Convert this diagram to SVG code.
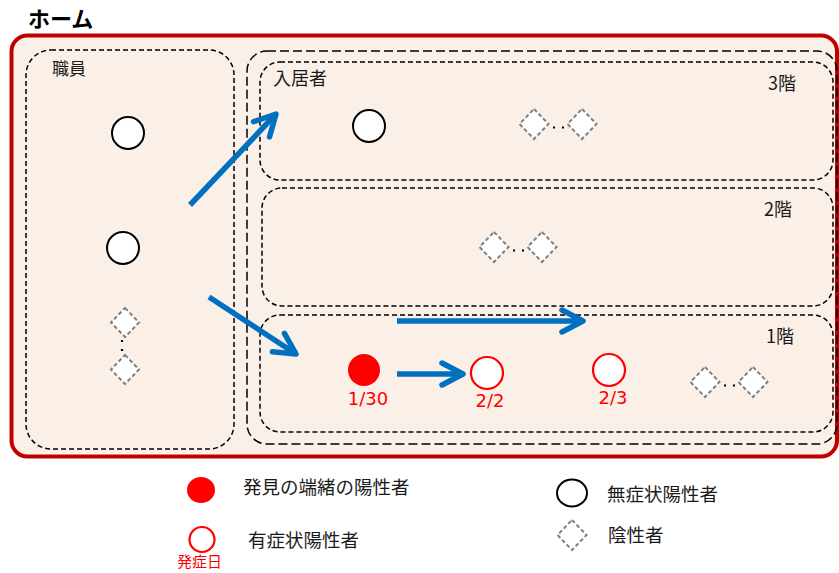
<svg xmlns="http://www.w3.org/2000/svg" width="839" height="573" viewBox="0 0 839 573">
<defs>
<style>
.box{fill:none;stroke:#000;stroke-width:1.5;stroke-dasharray:5 3}
.lbox{fill:none;stroke:#000;stroke-width:1.5;stroke-dasharray:9 4}
.neg{fill:#fff;stroke:#808080;stroke-width:2;stroke-dasharray:4 2.5}
.asym{fill:#fff;stroke:#000;stroke-width:2}
.sym{fill:#fff;stroke:#ff0000;stroke-width:2.2}
.dots{stroke:#000;stroke-width:2.2;stroke-dasharray:2 7}
.arrow{stroke:#0070C0;stroke-width:5.5;fill:none;marker-end:url(#chev)}
.jp{font-family:"Noto Sans CJK JP","Noto Sans",sans-serif;fill:#1a1a1a}
.num{font-family:"DejaVu Sans",sans-serif;fill:#ff0000;font-size:18px;text-anchor:middle}
</style>
<marker id="chev" markerUnits="userSpaceOnUse" viewBox="0 0 30 30" refX="25" refY="15" markerWidth="30" markerHeight="30" orient="auto">
<path d="M4 4 L25 15 L4 26" fill="none" stroke="#0070C0" stroke-width="5.5" stroke-linecap="round" stroke-linejoin="round"/>
</marker>
</defs>
<text x="28" y="27" class="jp" style="font-size:22px;font-weight:bold;fill:#000">ホーム</text>
<g id="home">
<rect x="11.5" y="35.5" width="825.5" height="421" rx="16" fill="#FBF0E8" stroke="#C00000" stroke-width="4"/>
</g>
<g id="staff">
<rect x="26" y="50" width="208" height="399" rx="25" class="box"/>
<text x="52" y="75" class="jp" style="font-size:17px">職員</text>
<circle cx="128" cy="133" r="16" class="asym"/>
<circle cx="123" cy="248" r="16" class="asym"/>
<path d="M125 308 L139 322.5 L125 337 L111 322.5 Z" class="neg"/>
<line x1="122" y1="340" x2="122" y2="353" class="dots"/>
<path d="M125 355 L139 369.5 L125 384 L111 369.5 Z" class="neg"/>
</g>
<g id="residents">
<rect x="247" y="51" width="590" height="393" rx="20" class="lbox"/>
<text x="273" y="85" class="jp" style="font-size:18px">入居者</text>
</g>
<g id="floor3">
<rect x="260" y="62" width="573" height="118" rx="20" class="box"/>
<text x="768" y="90" class="jp" style="font-size:18px">3階</text>
<circle cx="369" cy="126" r="16" class="asym"/>
<path d="M534 109 L548.5 124 L534 139 L519.5 124 Z" class="neg"/>
<line x1="553" y1="127.5" x2="564" y2="127.5" class="dots"/>
<path d="M582 109 L596.5 124 L582 139 L567.5 124 Z" class="neg"/>
</g>
<g id="floor2">
<rect x="262" y="188" width="571" height="118" rx="20" class="box"/>
<text x="764" y="216" class="jp" style="font-size:18px">2階</text>
<path d="M494 232 L508.5 247 L494 262 L479.5 247 Z" class="neg"/>
<line x1="513" y1="250.5" x2="524" y2="250.5" class="dots"/>
<path d="M542 232 L556.5 247 L542 262 L527.5 247 Z" class="neg"/>
</g>
<g id="floor1">
<rect x="260" y="315" width="573" height="117" rx="20" class="box"/>
<text x="766" y="343" class="jp" style="font-size:18px">1階</text>
<circle cx="364" cy="370" r="16" fill="#ff0000"/>
<text x="368" y="405" class="num">1/30</text>
<circle cx="487" cy="373" r="16" class="sym"/>
<text x="490" y="407" class="num">2/2</text>
<circle cx="609" cy="370" r="16" class="sym"/>
<text x="613" y="404" class="num">2/3</text>
<path d="M705 367 L719.5 382 L705 397 L690.5 382 Z" class="neg"/>
<line x1="724" y1="385.5" x2="735" y2="385.5" class="dots"/>
<path d="M753 367 L767.5 382 L753 397 L738.5 382 Z" class="neg"/>
</g>
<g id="connectors">
<line x1="190" y1="205" x2="276" y2="114" class="arrow"/>
<line x1="209" y1="297" x2="296" y2="354" class="arrow"/>
<line x1="397" y1="321" x2="583" y2="321" class="arrow"/>
<line x1="397" y1="374" x2="463" y2="374" class="arrow"/>
</g>
<g id="legend">
<ellipse cx="201" cy="490" rx="14" ry="13" fill="#ff0000"/>
<text x="243" y="494" class="jp" style="font-size:18.5px">発見の端緒の陽性者</text>
<ellipse cx="202" cy="539.5" rx="12.5" ry="12.5" class="sym"/>
<text x="177" y="567" class="jp" style="font-size:15px;fill:#ff0000">発症日</text>
<text x="248" y="547" class="jp" style="font-size:18.5px">有症状陽性者</text>
<ellipse cx="572" cy="493" rx="15" ry="13.5" class="asym"/>
<text x="607" y="501" class="jp" style="font-size:18.5px">無症状陽性者</text>
<path d="M572 520 L586.5 535 L572 550 L557.5 535 Z" class="neg"/>
<text x="608" y="542" class="jp" style="font-size:18.5px">陰性者</text>
</g>
</svg>
